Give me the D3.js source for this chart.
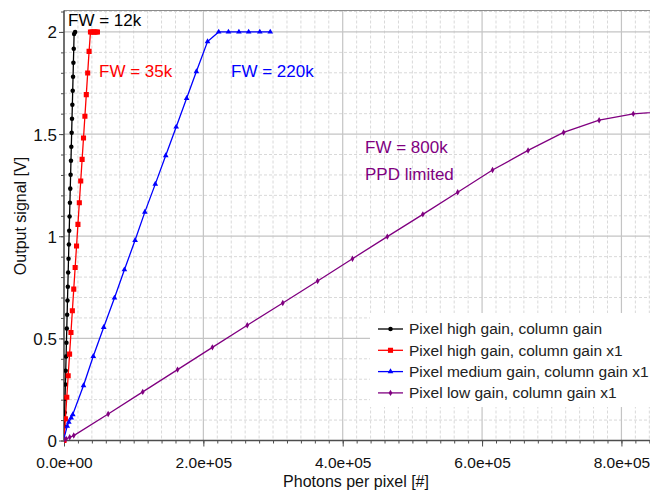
<!DOCTYPE html>
<html>
<head>
<meta charset="utf-8">
<script src="https://cdn.jsdelivr.net/npm/d3@7"></script>
<style>
  html, body { margin: 0; padding: 0; background: #fff; }
  svg { display: block; font-family: "Liberation Sans", Arial, sans-serif; }
</style>
</head>
<body>
<svg id="chart" width="650" height="495"></svg>
<script>
// Output signal vs. photons per pixel for four gain configurations
const blackPhotons = [0, 500, 1000, 1500, 2000, 2500, 3000, 3500, 4000, 4500, 5000, 5500, 6000, 6500, 7000, 7500, 8000, 8500, 9000, 9500, 10000, 10500, 11000, 11500, 12000, 12500, 13000, 13500, 14000, 14500, 16000];
const blackSignal  = [0, 0.068, 0.137, 0.205, 0.274, 0.342, 0.411, 0.479, 0.548, 0.616, 0.685, 0.753, 0.822, 0.890, 0.959, 1.027, 1.096, 1.164, 1.233, 1.301, 1.370, 1.438, 1.507, 1.575, 1.644, 1.712, 1.781, 1.849, 1.918, 1.990, 2.0];

const redPhotons = [0, 2000, 4000, 6000, 8000, 10000, 12000, 14000, 16000, 18000, 20000, 22000, 24000, 26000, 28000, 30000, 32000, 34000, 36000, 38000, 40000, 42000, 44000, 46000, 48000];
const redSignal  = [0, 0.106, 0.212, 0.317, 0.423, 0.529, 0.635, 0.741, 0.847, 0.952, 1.058, 1.164, 1.270, 1.376, 1.481, 1.587, 1.693, 1.799, 1.905, 2.0, 2.0, 2.0, 2.0, 2.0, 2.0];

const bluePhotons = [0, 4600, 6900, 10300, 12600, 28000, 42000, 57000, 72400, 86700, 102000, 116000, 131000, 146000, 161000, 176000, 190000, 206000, 222000, 236000, 251000, 265000, 281000, 296000];
const blueSignal  = [0.01, 0.07, 0.09, 0.111, 0.127, 0.269, 0.412, 0.554, 0.698, 0.836, 0.980, 1.118, 1.255, 1.395, 1.535, 1.675, 1.806, 1.953, 2.0, 2.0, 2.0, 2.0, 2.0, 2.0];

const purplePhotons = [0, 3100, 8200, 14000, 63400, 113000, 163000, 213000, 263000, 314000, 364000, 414000, 464000, 515000, 565000, 615000, 666000, 717000, 768000, 817000, 867000];
const purpleSignal  = [0.004, 0.008, 0.016, 0.024, 0.130, 0.238, 0.347, 0.456, 0.564, 0.673, 0.781, 0.890, 0.998, 1.107, 1.215, 1.324, 1.420, 1.508, 1.568, 1.599, 1.612];

const seriesNames = [
  "Pixel high gain, column gain",
  "Pixel high gain, column gain x1",
  "Pixel medium gain, column gain x1",
  "Pixel low gain, column gain x1"
];
const seriesColors = ["#000000", "#ff0000", "#0000ff", "#800080"];
const seriesMarkers = ["circle", "square", "triangle", "diamond"];

const xTickValues = [0, 200000, 400000, 600000, 800000];
const xTickLabels = ["0.0e+00", "2.0e+05", "4.0e+05", "6.0e+05", "8.0e+05"];
const yTickValues = [0, 0.5, 1, 1.5, 2];
const yTickLabels = ["0", "0.5", "1", "1.5", "2"];

const annotations = [
  { lines: ["FW = 12k"], color: "#000000", x: 68, y: 26 },
  { lines: ["FW = 35k"], color: "#ff0000", x: 99, y: 77 },
  { lines: ["FW = 220k"], color: "#0000ff", x: 231, y: 77 },
  { lines: ["FW = 800k", "PPD limited"], color: "#800080", x: 365, y: 153 }
];

const svg = d3.select("#chart");
const W = 650, H = 495;
const plot = { left: 64, top: 10.5, right: 650, bottom: 440.5 };

const x = d3.scaleLinear().domain([0, 841000]).range([plot.left, plot.right]);
const y = d3.scaleLinear().domain([0, 2.105]).range([plot.bottom, plot.top]);

const series = [
  { xs: blackPhotons, ys: blackSignal },
  { xs: redPhotons, ys: redSignal },
  { xs: bluePhotons, ys: blueSignal },
  { xs: purplePhotons, ys: purpleSignal }
].map((s, i) => ({
  name: seriesNames[i],
  color: seriesColors[i],
  marker: seriesMarkers[i],
  points: s.xs.map((v, j) => ({ x: v, y: s.ys[j] }))
}));

svg.append("defs").append("clipPath").attr("id", "plotClip")
  .append("rect")
  .attr("x", plot.left).attr("y", plot.top - 4)
  .attr("width", plot.right - plot.left + 10).attr("height", plot.bottom - plot.top + 8);

// Grid: dashed minor lines, solid major lines
const grid = svg.append("g");
const xMinor = d3.range(0, 841000, 20000).filter(v => v % 200000 !== 0);
const yMinor = d3.range(1, 22).map(i => i / 10).filter(v => Math.abs(v * 2 - Math.round(v * 2)) > 1e-6);

grid.selectAll(".xminor").data(xMinor).enter().append("line")
  .attr("x1", d => x(d)).attr("x2", d => x(d))
  .attr("y1", plot.top).attr("y2", plot.bottom)
  .attr("stroke", "#d9d9d9").attr("stroke-width", 1).attr("stroke-dasharray", "3,2");
grid.selectAll(".yminor").data(yMinor).enter().append("line")
  .attr("x1", plot.left).attr("x2", plot.right)
  .attr("y1", d => y(d)).attr("y2", d => y(d))
  .attr("stroke", "#d9d9d9").attr("stroke-width", 1).attr("stroke-dasharray", "3,2");
grid.selectAll(".xmajor").data(xTickValues.slice(1)).enter().append("line")
  .attr("x1", d => x(d)).attr("x2", d => x(d))
  .attr("y1", plot.top).attr("y2", plot.bottom)
  .attr("stroke", "#c4c4c4").attr("stroke-width", 1.2);
grid.selectAll(".ymajor").data(yTickValues.slice(1)).enter().append("line")
  .attr("x1", plot.left).attr("x2", plot.right)
  .attr("y1", d => y(d)).attr("y2", d => y(d))
  .attr("stroke", "#c4c4c4").attr("stroke-width", 1.2);

// Top frame line
svg.append("line")
  .attr("x1", plot.left).attr("x2", plot.right)
  .attr("y1", plot.top).attr("y2", plot.top)
  .attr("stroke", "#8c8c8c").attr("stroke-width", 1);

// Axes
const xAxisMinor = d3.axisBottom(x).tickValues(d3.range(0, 841000, 20000)).tickSize(3).tickFormat("");
const xAxisMajor = d3.axisBottom(x).tickValues(xTickValues).tickSize(6)
  .tickFormat((d, i) => xTickLabels[i]).tickPadding(10);
const yAxisMinor = d3.axisLeft(y).tickValues(d3.range(0, 22).map(i => i / 10)).tickSize(3).tickFormat("");
const yAxisMajor = d3.axisLeft(y).tickValues(yTickValues).tickSize(5)
  .tickFormat((d, i) => yTickLabels[i]).tickPadding(2);

function styleAxis(g) {
  g.select(".domain").remove();
  g.selectAll(".tick line").attr("stroke", "#4d4d4d").attr("stroke-width", 1);
  g.selectAll(".tick text").attr("fill", "#111").attr("font-family", "Liberation Sans, Arial, sans-serif");
}

svg.append("g").attr("transform", `translate(0,${plot.bottom})`).call(xAxisMinor).call(styleAxis);
svg.append("g").attr("transform", `translate(0,${plot.bottom})`).call(xAxisMajor).call(styleAxis)
  .selectAll(".tick text").attr("font-size", "15.5px");
svg.append("g").attr("transform", `translate(${plot.left},0)`).call(yAxisMinor).call(styleAxis);
svg.append("g").attr("transform", `translate(${plot.left},0)`).call(yAxisMajor).call(styleAxis)
  .selectAll(".tick text").attr("font-size", "17px").attr("dy", "0.35em");

svg.append("line")
  .attr("x1", plot.left).attr("x2", plot.right)
  .attr("y1", plot.bottom).attr("y2", plot.bottom)
  .attr("stroke", "#4d4d4d").attr("stroke-width", 1.6);
svg.append("line")
  .attr("x1", plot.left).attr("x2", plot.left)
  .attr("y1", plot.top).attr("y2", plot.bottom)
  .attr("stroke", "#4d4d4d").attr("stroke-width", 1.6);

// Axis titles
svg.append("text")
  .attr("x", 356).attr("y", 487)
  .attr("text-anchor", "middle").attr("font-size", "16px").attr("fill", "#111")
  .text("Photons per pixel [#]");
svg.append("text")
  .attr("transform", "translate(26,216) rotate(-90)")
  .attr("text-anchor", "middle").attr("font-size", "16px").attr("fill", "#111")
  .text("Output signal [V]");

// Markers
const symbolTypes = {
  circle: d3.symbol().type(d3.symbolCircle).size(16),
  square: d3.symbol().type(d3.symbolSquare).size(26),
  triangle: d3.symbol().type(d3.symbolTriangle).size(14),
  diamond: d3.symbol().type(d3.symbolDiamond).size(12)
};

const line = d3.line().x(d => x(d.x)).y(d => y(d.y));
const dataLayer = svg.append("g").attr("clip-path", "url(#plotClip)");

series.forEach(s => {
  dataLayer.append("path")
    .datum(s.points)
    .attr("fill", "none")
    .attr("stroke", s.color)
    .attr("stroke-width", 1.3)
    .attr("d", line);
  dataLayer.selectAll(null).data(s.points).enter().append("path")
    .attr("transform", d => `translate(${x(d.x)},${y(d.y)})`)
    .attr("d", symbolTypes[s.marker]())
    .attr("fill", s.color);
});

// Annotations
annotations.forEach(a => {
  const t = svg.append("text")
    .attr("x", a.x).attr("y", a.y)
    .attr("font-size", "17px").attr("fill", a.color);
  a.lines.forEach((ln, i) => {
    t.append("tspan").attr("x", a.x).attr("dy", i === 0 ? 0 : 27).text(ln);
  });
});

// Legend
const legend = svg.append("g");
legend.append("rect")
  .attr("x", 370).attr("y", 313).attr("width", 290).attr("height", 94)
  .attr("fill", "#ffffff");
series.forEach((s, i) => {
  const ly = 329 + i * 21.3;
  const g = legend.append("g");
  g.append("line")
    .attr("x1", 378).attr("x2", 403).attr("y1", ly).attr("y2", ly)
    .attr("stroke", s.color).attr("stroke-width", 1.3);
  g.append("path")
    .attr("transform", `translate(390.5,${ly})`)
    .attr("d", symbolTypes[s.marker]())
    .attr("fill", s.color);
  g.append("text")
    .attr("x", 409).attr("y", ly).attr("dy", "0.35em")
    .attr("font-size", "15.5px").attr("fill", "#222")
    .text(s.name);
});
</script>
</body>
</html>
